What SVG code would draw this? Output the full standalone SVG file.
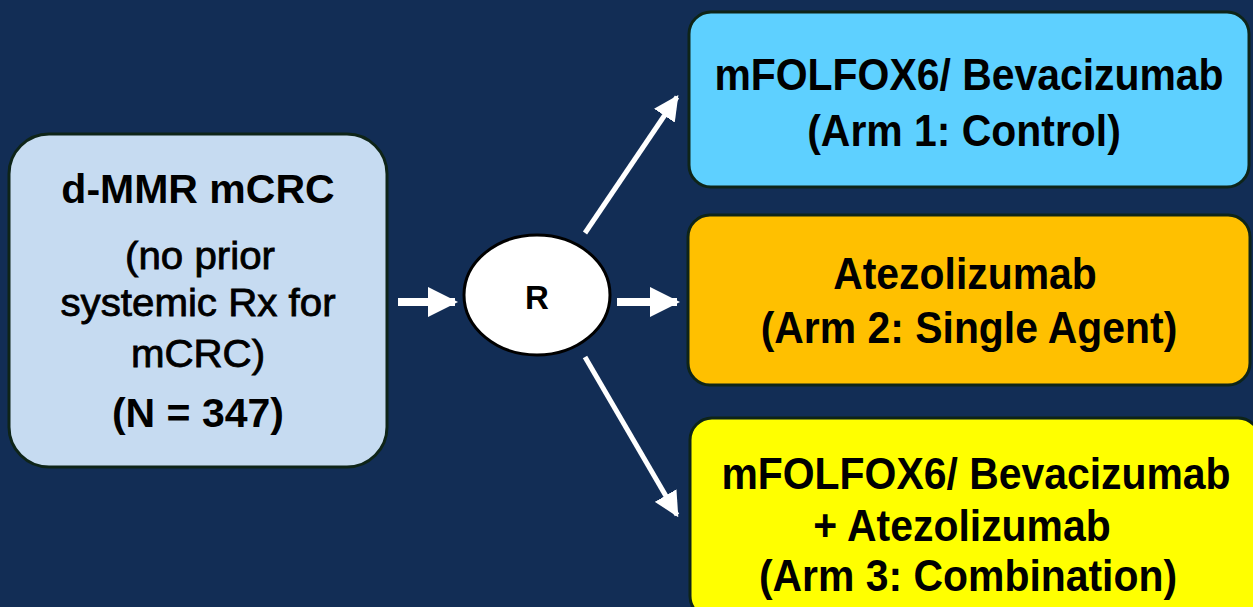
<svg xmlns="http://www.w3.org/2000/svg" width="1253" height="607" viewBox="0 0 1253 607">
<style>
.bg{fill:#122d55}
.box{stroke:#0e2418;stroke-width:3}
.t{font-family:"Liberation Sans",Arial,sans-serif;font-weight:bold;fill:#000;text-anchor:middle}
.r{font-family:"Liberation Sans",Arial,sans-serif;font-weight:normal;fill:#000;stroke:#000;stroke-width:0.8;text-anchor:middle}
.arm{font-size:44px}
.arr{stroke:#ffffff;fill:none}
</style>
<defs>
<marker id="ah" viewBox="0 0 10 10" refX="9" refY="5" markerWidth="3.8" markerHeight="3.8" orient="auto" markerUnits="strokeWidth">
<path d="M0,0 L10,5 L0,10 Z" fill="#ffffff"/>
</marker>
<marker id="ah2" viewBox="0 0 10 10" refX="9" refY="5" markerWidth="5" markerHeight="5" orient="auto" markerUnits="strokeWidth">
<path d="M0,0 L10,5 L0,10 Z" fill="#ffffff"/>
</marker>
</defs>
<rect class="bg" x="0" y="0" width="1253" height="607"/>
<g id="population">
<rect class="box" x="9" y="134" width="378" height="333" rx="40" fill="#c6dbf1"/>
<text class="t" x="198" y="203" font-size="41">d-MMR mCRC</text>
<text class="r" transform="translate(200,269) scale(1.06,1)" font-size="38">(no prior</text>
<text class="r" transform="translate(198,316) scale(1.06,1)" font-size="38">systemic Rx for</text>
<text class="r" transform="translate(198,367) scale(1.06,1)" font-size="38">mCRC)</text>
<text class="t" x="198" y="427" font-size="41">(N = 347)</text>
</g>
<g id="randomize">
<ellipse cx="537" cy="295" rx="73" ry="60" fill="#ffffff" stroke="#000" stroke-width="3"/>
<text class="t" x="537" y="309" font-size="33">R</text>
</g>
<g id="arm1">
<rect class="box" x="689" y="12" width="560" height="175" rx="22" fill="#5ed0ff"/>
<text class="t arm" transform="translate(969,90) scale(0.93,1)">mFOLFOX6/ Bevacizumab</text>
<text class="t arm" transform="translate(964,146) scale(0.93,1)">(Arm 1: Control)</text>
</g>
<g id="arm2">
<rect class="box" x="688" y="215" width="562" height="170" rx="22" fill="#ffc000"/>
<text class="t arm" transform="translate(965,289) scale(0.93,1)">Atezolizumab</text>
<text class="t arm" transform="translate(969,343) scale(0.93,1)">(Arm 2: Single Agent)</text>
</g>
<g id="arm3">
<rect class="box" x="690" y="418" width="570" height="200" rx="22" fill="#ffff00"/>
<text class="t arm" transform="translate(976,489) scale(0.93,1)">mFOLFOX6/ Bevacizumab</text>
<text class="t arm" transform="translate(962,541) scale(0.93,1)">+ Atezolizumab</text>
<text class="t arm" transform="translate(968,591) scale(0.93,1)">(Arm 3: Combination)</text>
</g>
<g id="connectors">
<line class="arr" x1="398" y1="302" x2="455" y2="302" stroke-width="8" marker-end="url(#ah)"/>
<line class="arr" x1="617" y1="302" x2="677" y2="302" stroke-width="8" marker-end="url(#ah)"/>
<line class="arr" x1="585" y1="233" x2="677" y2="97" stroke-width="5" marker-end="url(#ah2)"/>
<line class="arr" x1="585" y1="357" x2="677" y2="515" stroke-width="5" marker-end="url(#ah2)"/>
</g>
</svg>
